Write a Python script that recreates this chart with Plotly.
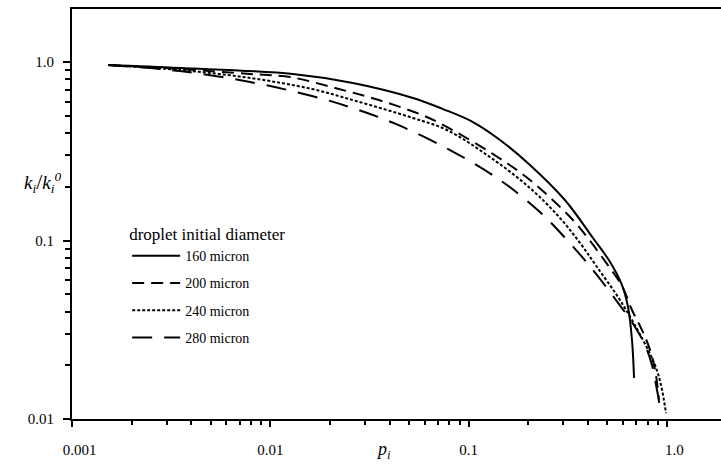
import plotly.graph_objects as go

# ---- data ----
series_names = ["160 micron", "200 micron", "240 micron", "280 micron"]

p_160 = [0.00152, 0.0035, 0.013, 0.0261, 0.0524, 0.0743, 0.1052, 0.144, 0.204, 0.306, 0.424, 0.517, 0.594, 0.637, 0.667, 0.683]
k_160 = [0.962, 0.926, 0.857, 0.763, 0.629, 0.545, 0.461, 0.366, 0.265, 0.1686, 0.1033, 0.0758, 0.0563, 0.0424, 0.0277, 0.0170]

p_200 = [0.00152, 0.0035, 0.0079, 0.01258, 0.0212, 0.0353, 0.0582, 0.0743, 0.128, 0.204, 0.336, 0.410, 0.499, 0.594, 0.667, 0.749, 0.822, 0.881, 0.913]
k_200 = [0.962, 0.914, 0.857, 0.824, 0.715, 0.612, 0.505, 0.444, 0.313, 0.2183, 0.1302, 0.0994, 0.0739, 0.0556, 0.0408, 0.0315, 0.0244, 0.0176, 0.0123]

p_240 = [0.00152, 0.0035, 0.0079, 0.01623, 0.027, 0.0524, 0.0778, 0.128, 0.204, 0.289, 0.365, 0.444, 0.580, 0.758, 0.871, 0.934, 0.990]
k_240 = [0.962, 0.902, 0.814, 0.706, 0.605, 0.486, 0.416, 0.2936, 0.1968, 0.1337, 0.0968, 0.0711, 0.0464, 0.0277, 0.0201, 0.0155, 0.0108]

p_280 = [0.00152, 0.0035, 0.0079, 0.01623, 0.027, 0.0441, 0.0806, 0.144, 0.229, 0.317, 0.400, 0.554, 0.691, 0.776, 0.841, 0.892, 0.923]
k_280 = [0.962, 0.890, 0.773, 0.645, 0.545, 0.444, 0.321, 0.218, 0.1444, 0.0994, 0.0739, 0.0464, 0.0328, 0.0260, 0.0201, 0.0145, 0.0120]

x_tickvals = [0.001, 0.01, 0.1, 1.0]
x_ticktext = ["\u00a0\u00a0\u00a0\u00a00.001", "0.01", "0.1", "\u00a0\u00a0\u00a0\u00a01.0"]
y_tickvals = [0.01, 0.1, 1.0]
y_ticktext = ["0.01", "0.1", "1.0"]

series_p = [p_160, p_200, p_240, p_280]
series_k = [k_160, k_200, k_240, k_280]
dashes = ["solid", "12px,7px", "3px,2px", "20px,12px"]

SERIF = "Liberation Serif, Times New Roman, serif"

fig = go.Figure()
for i, (name, px, ky) in enumerate(zip(series_names, series_p, series_k)):
    fig.add_trace(go.Scatter(
        x=px, y=ky, mode="lines", name=name, legendgroup=f"g{i}",
        line=dict(color="black", width=2, dash=dashes[i], shape="spline", smoothing=1.0),
    ))

fig.update_layout(
    width=721, height=464,
    margin=dict(l=72, r=0, t=9, b=45),
    paper_bgcolor="white", plot_bgcolor="white",
    font=dict(family=SERIF, color="black", size=15),
    showlegend=True,
    legend=dict(
        x=0.085, y=0.49, xanchor="left", yanchor="top",
        bgcolor="rgba(0,0,0,0)",
        title=dict(text="droplet initial diameter", font=dict(family=SERIF, size=17)),
        font=dict(family=SERIF, size=14),
        tracegroupgap=6,
        itemwidth=48,
    ),
    xaxis=dict(
        type="log", range=[-3, 0.273],
        tickvals=x_tickvals, ticktext=x_ticktext,
        ticks="outside", ticklen=6, tickwidth=2, tickcolor="black",
        showline=True, linecolor="black", linewidth=2, mirror=True,
        showgrid=False, zeroline=False,
        tickfont=dict(family=SERIF, size=15),
        ticklabelstandoff=10,
        minor=dict(ticks="outside", ticklen=4, tickwidth=2, tickcolor="black", dtick="D1", showgrid=False),
    ),
    yaxis=dict(
        type="log", range=[-2, 0.297],
        tickvals=y_tickvals, ticktext=y_ticktext,
        ticks="outside", ticklen=7, tickwidth=2, tickcolor="black",
        showline=True, linecolor="black", linewidth=2,
        showgrid=False, zeroline=False,
        tickfont=dict(family=SERIF, size=15),
        ticklabelstandoff=6,
        minor=dict(ticks="outside", ticklen=5, tickwidth=2, tickcolor="black", dtick="D1", showgrid=False),
    ),
)

fig.add_annotation(
    xref="paper", yref="paper", x=(42 - 72) / 649, y=(419 - 182) / 410,
    text="<i>k<sub>i</sub></i><span style='font-size:22px'>/</span><i>k<sub>i</sub><sup>0</sup></i>",
    showarrow=False, font=dict(family=SERIF, size=19, color="black"),
    xanchor="center", yanchor="middle",
)
fig.add_annotation(
    xref="paper", yref="paper", x=(383 - 72) / 649, y=(419 - 450) / 410,
    text="<i>p<sub>i</sub></i>",
    showarrow=False, font=dict(family=SERIF, size=18, color="black"),
    xanchor="center", yanchor="middle",
)

fig.write_html("out.html")
